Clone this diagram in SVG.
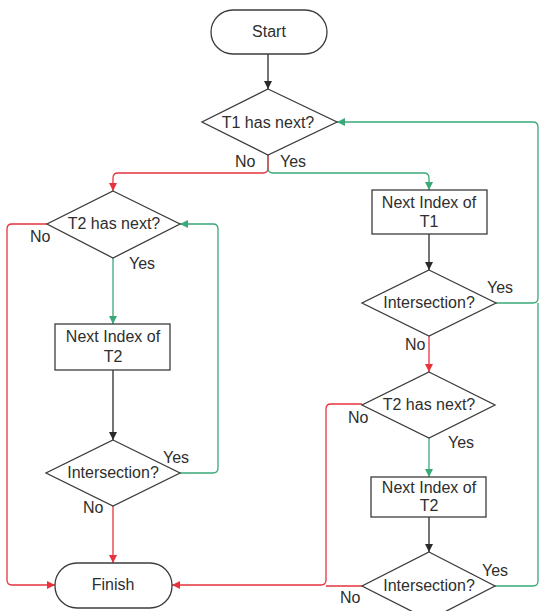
<svg xmlns="http://www.w3.org/2000/svg" width="541" height="611" viewBox="0 0 541 611">
  <style>
    .node { fill: #ffffff; stroke: #3c3c3c; stroke-width: 1.3; }
    .label { font-family: "Liberation Sans", Arial, sans-serif; font-size: 16px; fill: #2e2e2e; text-anchor: middle; }
    .tag { font-family: "Liberation Sans", Arial, sans-serif; font-size: 16px; fill: #2e2e2e; }
    .black { fill: none; stroke: #2a2a2a; stroke-width: 1.3; }
    .red { fill: none; stroke: #e8333d; stroke-width: 1.3; }
    .green { fill: none; stroke: #3aa878; stroke-width: 1.3; }
  </style>
  <defs>
    <marker id="arrowBlack" markerWidth="8" markerHeight="8" refX="8" refY="4" orient="auto" markerUnits="userSpaceOnUse">
      <path d="M0,0 L8,4 L0,8 Z" fill="#2a2a2a"/>
    </marker>
    <marker id="arrowRed" markerWidth="8" markerHeight="8" refX="8" refY="4" orient="auto" markerUnits="userSpaceOnUse">
      <path d="M0,0 L8,4 L0,8 Z" fill="#e8333d"/>
    </marker>
    <marker id="arrowGreen" markerWidth="8" markerHeight="8" refX="8" refY="4" orient="auto" markerUnits="userSpaceOnUse">
      <path d="M0,0 L8,4 L0,8 Z" fill="#3aa878"/>
    </marker>
  </defs>

  <rect width="541" height="611" fill="#ffffff"/>

  <!-- connectors -->
  <g id="connectors">
    <path class="black" d="M268,54 V89" marker-end="url(#arrowBlack)"/>
    <path class="green" d="M268,155 V168 Q268,173 273,173 H424 Q429,173 429,178 V190" marker-end="url(#arrowGreen)"/>
    <path class="red" d="M268,155 V168 Q268,173 263,173 H118 Q113,173 113,178 V191" marker-end="url(#arrowRed)"/>
    <path class="black" d="M429,234 V270" marker-end="url(#arrowBlack)"/>
    <path class="green" d="M496,303 H533 Q538,303 538,298 V127 Q538,122 533,122 H337" marker-end="url(#arrowGreen)"/>
    <path class="red" d="M429,336 V372" marker-end="url(#arrowRed)"/>
    <path class="red" d="M362,404 H331 Q326,404 326,409 V580 Q326,585 321,585 H172" marker-end="url(#arrowRed)"/>
    <path class="green" d="M429,438 V477" marker-end="url(#arrowGreen)"/>
    <path class="black" d="M429,517 V552" marker-end="url(#arrowBlack)"/>
    <path class="green" d="M495,586 H533 Q538,586 538,581 V303"/>
    <path class="red" d="M362,586 H326"/>
    <path class="red" d="M47,224 H12 Q7,224 7,229 V580 Q7,585 12,585 H55" marker-end="url(#arrowRed)"/>
    <path class="green" d="M113,258 V324" marker-end="url(#arrowGreen)"/>
    <path class="black" d="M113,370 V440" marker-end="url(#arrowBlack)"/>
    <path class="green" d="M180,473 H213 Q218,473 218,468 V229 Q218,224 213,224 H180" marker-end="url(#arrowGreen)"/>
    <path class="red" d="M113,506 V563" marker-end="url(#arrowRed)"/>

    <text class="tag" x="235" y="167">No</text>
    <text class="tag" x="280" y="167">Yes</text>
    <text class="tag" x="30" y="242">No</text>
    <text class="tag" x="129" y="269">Yes</text>
    <text class="tag" x="163" y="463">Yes</text>
    <text class="tag" x="83" y="513">No</text>
    <text class="tag" x="487" y="293">Yes</text>
    <text class="tag" x="405" y="350">No</text>
    <text class="tag" x="348" y="423">No</text>
    <text class="tag" x="448" y="448">Yes</text>
    <text class="tag" x="482" y="576">Yes</text>
    <text class="tag" x="340" y="603">No</text>
  </g>

  <!-- nodes -->
  <g id="start">
    <rect class="node" x="211" y="10" width="116" height="44" rx="22" ry="22"/>
    <text class="label" x="269" y="37">Start</text>
  </g>
  <g id="t1-has-next">
    <polygon class="node" points="268,89 337,122 268,155 202,122"/>
    <text class="label" x="268" y="128">T1 has next?</text>
  </g>
  <g id="t2-has-next-left">
    <polygon class="node" points="113,191 180,224 113,258 47,224"/>
    <text class="label" x="114" y="229">T2 has next?</text>
  </g>
  <g id="next-index-t2-left">
    <rect class="node" x="55" y="324" width="115" height="46"/>
    <text class="label" x="113" y="342">Next Index of</text>
    <text class="label" x="113" y="362">T2</text>
  </g>
  <g id="intersection-left">
    <polygon class="node" points="113,440 180,473 113,506 46,473"/>
    <text class="label" x="113" y="478">Intersection?</text>
  </g>
  <g id="finish">
    <rect class="node" x="55" y="563" width="117" height="45" rx="22" ry="22"/>
    <text class="label" x="113" y="590">Finish</text>
  </g>
  <g id="next-index-t1">
    <rect class="node" x="372" y="190" width="115" height="44"/>
    <text class="label" x="429" y="208">Next Index of</text>
    <text class="label" x="429" y="227">T1</text>
  </g>
  <g id="intersection-right-1">
    <polygon class="node" points="429,270 496,303 429,336 362,303"/>
    <text class="label" x="429" y="308">Intersection?</text>
  </g>
  <g id="t2-has-next-right">
    <polygon class="node" points="429,372 495,405 429,438 362,405"/>
    <text class="label" x="429" y="410">T2 has next?</text>
  </g>
  <g id="next-index-t2-right">
    <rect class="node" x="371" y="477" width="115" height="40"/>
    <text class="label" x="429" y="493">Next Index of</text>
    <text class="label" x="429" y="511">T2</text>
  </g>
  <g id="intersection-right-2">
    <polygon class="node" points="429,552 495,586 429,620 362,586"/>
    <text class="label" x="429" y="591">Intersection?</text>
  </g>
</svg>
